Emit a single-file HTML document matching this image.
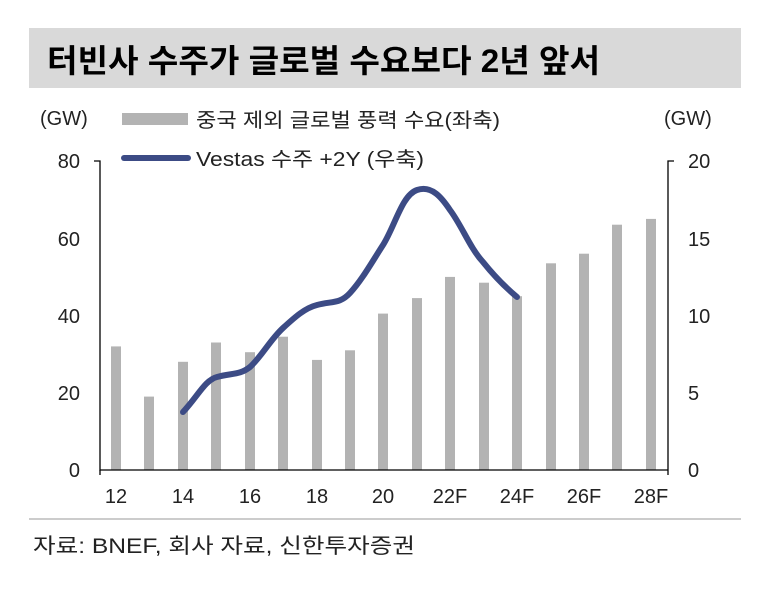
<!DOCTYPE html>
<html><head><meta charset="utf-8"><style>
body{margin:0;background:#fff;width:773px;height:593px;overflow:hidden}
svg text{font-family:"Liberation Sans","Noto Sans CJK KR",sans-serif}
</style></head><body>
<svg width="773" height="593" xmlns="http://www.w3.org/2000/svg">
<rect x="29" y="28" width="712" height="60" fill="#d9d9d9"/>
<text x="47" y="72" font-size="32" font-weight="bold" fill="#000" textLength="553" lengthAdjust="spacingAndGlyphs">터빈사 수주가 글로벌 수요보다 2년 앞서</text>
<text x="40" y="125" font-size="20" fill="#222">(GW)</text>
<text x="664" y="125" font-size="20" fill="#222">(GW)</text>
<rect x="122" y="113" width="66" height="12" fill="#b3b3b3"/>
<text x="196" y="127" font-size="20" fill="#222" textLength="304" lengthAdjust="spacingAndGlyphs">중국 제외 글로벌 풍력 수요(좌축)</text>
<line x1="124" y1="158" x2="188" y2="158" stroke="#3c4b85" stroke-width="6" stroke-linecap="round"/>
<text x="196" y="166" font-size="20" fill="#222" textLength="228" lengthAdjust="spacingAndGlyphs">Vestas 수주 +2Y (우축)</text>
<g font-size="20" fill="#222">
<text x="80" y="168" text-anchor="end">80</text>
<text x="80" y="246" text-anchor="end">60</text>
<text x="80" y="323" text-anchor="end">40</text>
<text x="80" y="400" text-anchor="end">20</text>
<text x="80" y="477" text-anchor="end">0</text>
<text x="688" y="168">20</text>
<text x="688" y="246">15</text>
<text x="688" y="323">10</text>
<text x="688" y="400">5</text>
<text x="688" y="477">0</text>
<text x="116" y="503" text-anchor="middle">12</text>
<text x="183" y="503" text-anchor="middle">14</text>
<text x="250" y="503" text-anchor="middle">16</text>
<text x="317" y="503" text-anchor="middle">18</text>
<text x="383" y="503" text-anchor="middle">20</text>
<text x="450" y="503" text-anchor="middle">22F</text>
<text x="517" y="503" text-anchor="middle">24F</text>
<text x="584" y="503" text-anchor="middle">26F</text>
<text x="651" y="503" text-anchor="middle">28F</text>
</g>
<g fill="#b3b3b3">
<rect x="111" y="346.4" width="10" height="123.6"/>
<rect x="144" y="396.6" width="10" height="73.4"/>
<rect x="178" y="361.8" width="10" height="108.2"/>
<rect x="211" y="342.5" width="10" height="127.5"/>
<rect x="245" y="352.2" width="10" height="117.8"/>
<rect x="278" y="336.7" width="10" height="133.3"/>
<rect x="312" y="359.9" width="10" height="110.1"/>
<rect x="345" y="350.3" width="10" height="119.7"/>
<rect x="378" y="313.6" width="10" height="156.4"/>
<rect x="412" y="298.1" width="10" height="171.9"/>
<rect x="445" y="276.9" width="10" height="193.1"/>
<rect x="479" y="282.7" width="10" height="187.3"/>
<rect x="512" y="296.2" width="10" height="173.8"/>
<rect x="546" y="263.3" width="10" height="206.7"/>
<rect x="579" y="253.7" width="10" height="216.3"/>
<rect x="612" y="224.7" width="10" height="245.3"/>
<rect x="646" y="218.9" width="10" height="251.1"/>
</g>
<g stroke="#000" stroke-width="1.3" fill="none">
<path d="M94 161H100V470H668"/>
<path d="M674 161H668V470"/>
<path d="M100 470v5M668 470v5"/>
</g>
<path d="M183 412 C198 396,205 380,217 377 C232 373,240 375,250 367 C262 356,270 340,283 328 C295 317,305 308,317 305 C332 301,340 304,350 293 C362 280,372 262,383 245 C395 226,402 195,417 190 C432 185,442 198,450 210 C462 226,470 248,483 262 C495 277,505 287,517 297" fill="none" stroke="#3c4b85" stroke-width="6" stroke-linecap="round" stroke-linejoin="round"/>
<line x1="29" y1="519" x2="741" y2="519" stroke="#999" stroke-width="1"/>
<text x="33" y="553" font-size="21" fill="#222" textLength="382" lengthAdjust="spacingAndGlyphs">자료: BNEF, 회사 자료, 신한투자증권</text>
</svg>
</body></html>
